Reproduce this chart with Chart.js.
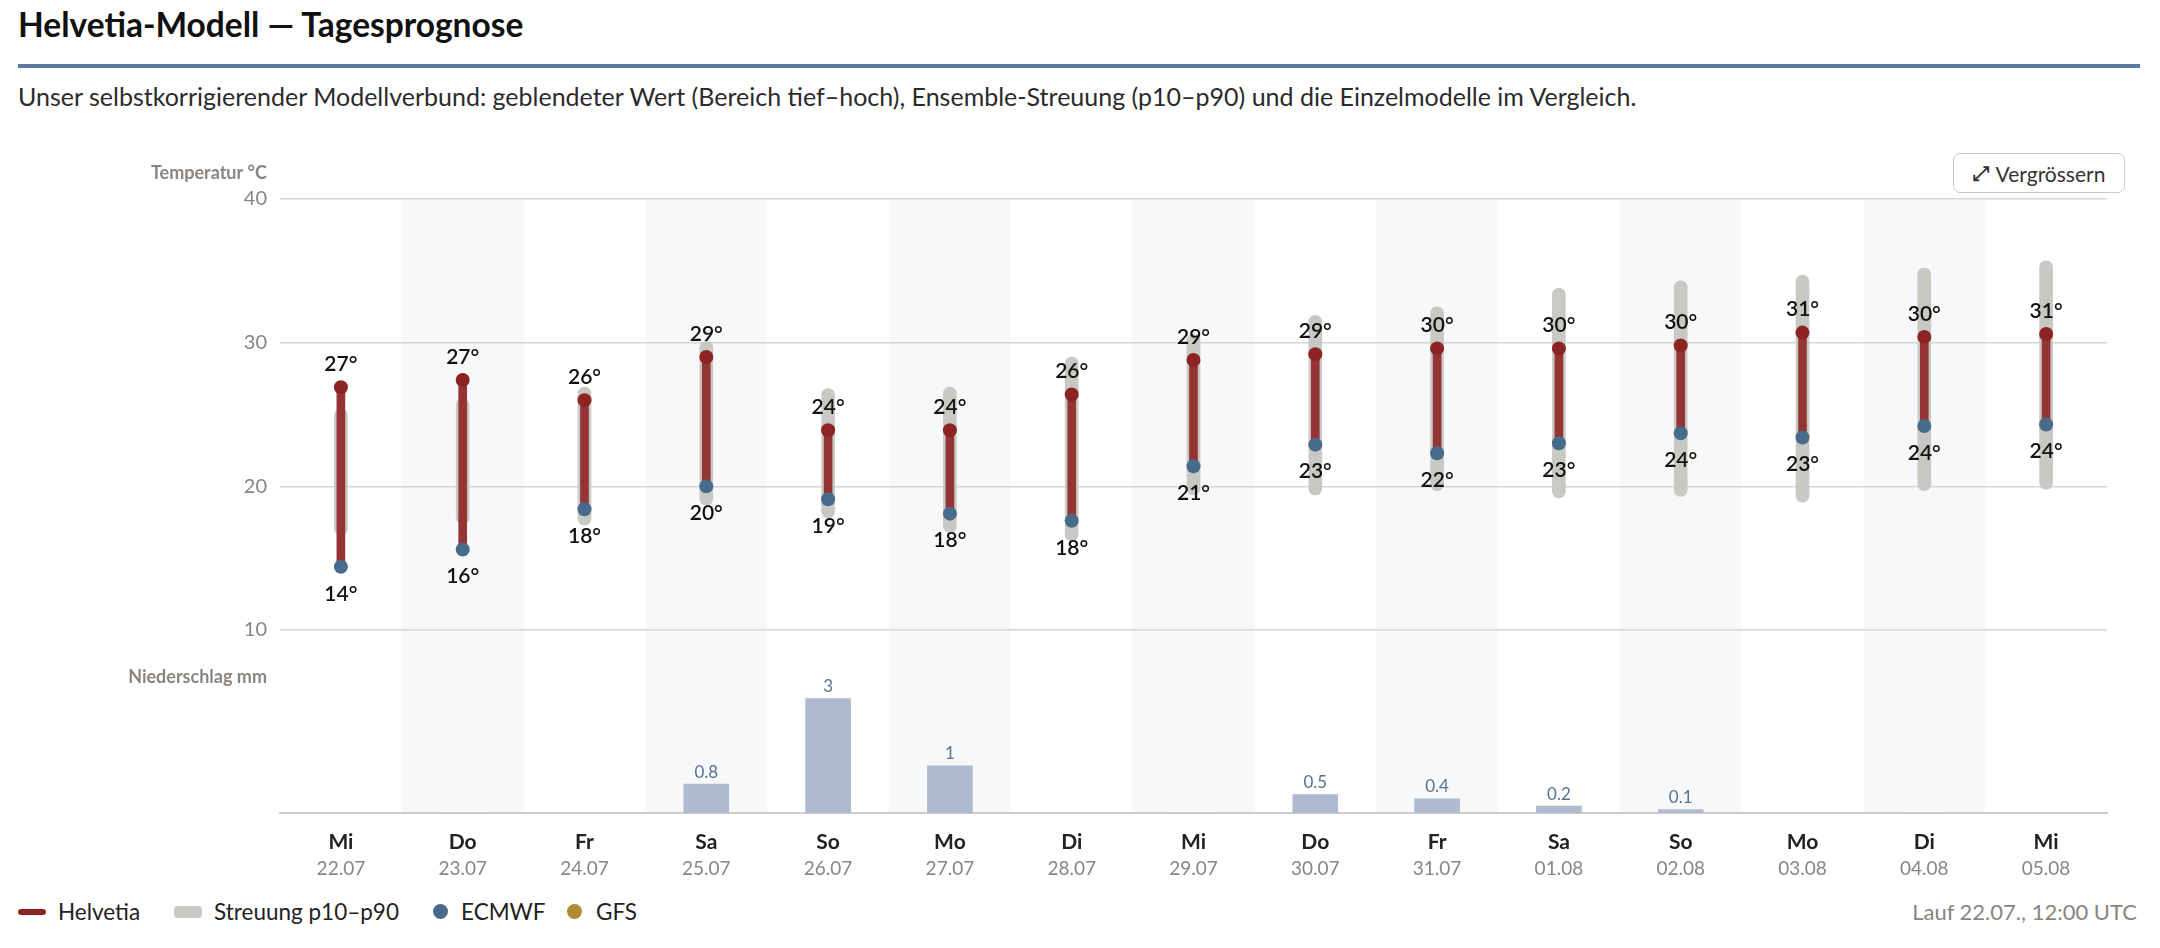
<!DOCTYPE html>
<html lang="de">
<head>
<meta charset="utf-8">
<title>Helvetia-Modell — Tagesprognose</title>
<script src="https://cdn.jsdelivr.net/npm/chart.js@4.4.1/dist/chart.umd.min.js"></script>
<style>
html,body{margin:0;padding:0;background:#fff;}
body{width:2160px;height:948px;position:relative;overflow:hidden;font-family:Lato,'Source Sans Pro',sans-serif;}
#title{position:absolute;left:18px;top:4px;font-size:33.5px;font-weight:700;line-height:40px;color:#111;white-space:nowrap;}
#rule{position:absolute;left:18px;top:64px;width:2122px;height:4px;background:#5b79a3;}
#sub{position:absolute;left:18px;top:81px;font-size:25px;line-height:30px;color:#2b2b2b;white-space:nowrap;}
#wrap{position:absolute;left:0;top:0;width:2160px;height:883px;}
#btn{position:absolute;left:1953px;top:153px;width:172px;height:40px;box-sizing:border-box;border:1.5px solid #c9c9c9;border-radius:7px;font-size:21px;color:#333;display:flex;align-items:center;justify-content:center;gap:7px;background:#fff;z-index:2;}
#btn .ic{font-family:'DejaVu Sans',sans-serif;font-size:20px;font-weight:bold;}
.lt{position:absolute;top:898px;height:28px;line-height:28px;font-size:22.5px;color:#222;white-space:nowrap;}
.sw{position:absolute;}
#foot{position:absolute;right:23px;top:898px;height:28px;line-height:28px;font-size:22px;color:#8a8580;white-space:nowrap;}
</style>
</head>
<body>
<div id="title">Helvetia-Modell — Tagesprognose</div>
<div id="rule"></div>
<div id="sub">Unser selbstkorrigierender Modellverbund: geblendeter Wert (Bereich tief–hoch), Ensemble-Streuung (p10–p90) und die Einzelmodelle im Vergleich.</div>
<div id="wrap"><canvas id="c" width="2160" height="883"></canvas></div>
<div id="btn"><span class="ic">⤢</span><span>Vergrössern</span></div>

<div class="sw" style="left:18px;top:909px;width:28px;height:6px;border-radius:3px;background:#8c2424;"></div>
<div class="lt" style="left:58px;">Helvetia</div>
<div class="sw" style="left:174px;top:906px;width:28px;height:12px;border-radius:4px;background:#c9c9c4;"></div>
<div class="lt" style="left:214px;">Streuung p10–p90</div>
<div class="sw" style="left:433px;top:904px;width:15px;height:15px;border-radius:50%;background:#486b8c;"></div>
<div class="lt" style="left:461px;">ECMWF</div>
<div class="sw" style="left:567px;top:904px;width:15px;height:15px;border-radius:50%;background:#b08a35;"></div>
<div class="lt" style="left:596px;">GFS</div>
<div id="foot">Lauf 22.07., 12:00 UTC</div>

<script>
// ---- data ----
const days  = ['Mi','Do','Fr','Sa','So','Mo','Di','Mi','Do','Fr','Sa','So','Mo','Di','Mi'];
const dates = ['22.07','23.07','24.07','25.07','26.07','27.07','28.07','29.07','30.07','31.07','01.08','02.08','03.08','04.08','05.08'];
const helvHigh = [26.9, 27.4, 26.0, 29.0, 23.9, 23.9, 26.4, 28.8, 29.2, 29.6, 29.6, 29.8, 30.7, 30.4, 30.6];
const helvLow  = [14.4, 15.6, 18.4, 20.0, 19.1, 18.1, 17.6, 21.4, 22.9, 22.3, 23.0, 23.7, 23.4, 24.2, 24.3];
const ecmwf    = [14.4, 15.6, 18.4, 20.0, 19.1, 18.1, 17.6, 21.4, 22.9, 22.3, 23.0, 23.7, 23.4, 24.2, 24.3];
const p10      = [16.6, 17.4, 17.3, 18.7, 17.8, 16.8, 16.2, 19.4, 19.4, 19.7, 19.2, 19.3, 18.9, 19.7, 19.8];
const p90      = [25.4, 26.1, 26.9, 30.1, 26.8, 26.9, 29.0, 30.6, 31.9, 32.5, 33.8, 34.3, 34.7, 35.2, 35.7];
const precip   = [0, 0, 0, 0.76, 3.0, 1.24, 0, 0, 0.48, 0.37, 0.18, 0.09, 0, 0, 0];
const tempTicks = [10, 20, 30, 40];
const tempRange = [10, 40];
const precipMax = 4.8;

const FONT = "Lato, 'Source Sans Pro', sans-serif";
const GRAY_TXT = '#8a8580';

function fmtPrecip(v){ return v >= 1 ? String(Math.round(v)) : v.toFixed(1); }

const shadePlugin = {
  id: 'shade',
  beforeDraw(chart){
    const {ctx, chartArea, scales} = chart;
    const w = (chartArea.right - chartArea.left) / days.length;
    ctx.save();
    ctx.fillStyle = '#f7f8fa';
    days.forEach((d, i) => {
      if (i % 2 === 1) {
        const cx = scales.x.getPixelForValue(i);
        ctx.fillRect(cx - w/2, chartArea.top, w, chartArea.bottom - chartArea.top);
      }
    });
    ctx.restore();
  }
};

const labelPlugin = {
  id: 'labels',
  afterDatasetsDraw(chart){
    const {ctx, scales, chartArea} = chart;
    ctx.save();
    ctx.textAlign = 'center';
    ctx.textBaseline = 'middle';
    ctx.fillStyle = '#111';
    ctx.font = '600 21px ' + FONT;
    const hiMeta = chart.getDatasetMeta(2).data;
    const loMeta = chart.getDatasetMeta(3).data;
    helvHigh.forEach((v, i) => {
      ctx.fillText(Math.round(v) + '°', hiMeta[i].x, hiMeta[i].y - 23);
    });
    helvLow.forEach((v, i) => {
      ctx.fillText(Math.round(v) + '°', loMeta[i].x, loMeta[i].y + 27);
    });
    const pMeta = chart.getDatasetMeta(4).data;
    ctx.font = '17px ' + FONT;
    ctx.fillStyle = '#56728f';
    precip.forEach((v, i) => {
      if (v > 0) ctx.fillText(fmtPrecip(v), pMeta[i].x, pMeta[i].y - 12);
    });
    ctx.textAlign = 'right';
    ctx.fillStyle = GRAY_TXT;
    ctx.font = 'bold 18px ' + FONT;
    ctx.fillText('Temperatur °C', chartArea.left - 13, scales.y.top - 26);
    ctx.fillText('Niederschlag mm', chartArea.left - 13, scales.yP.top + 47);
    ctx.restore();
  }
};

Chart.defaults.font.family = FONT;

new Chart(document.getElementById('c'), {
  data: {
    labels: dates,
    datasets: [
      { type: 'bar', label: 'Streuung p10–p90', data: p10.map((lo, i) => [lo, p90[i]]),
        yAxisID: 'y', backgroundColor: '#c9c9c4', barThickness: 13, borderRadius: 7,
        borderSkipped: false, grouped: false, order: 5 },
      { type: 'bar', label: 'Helvetia', data: helvLow.map((lo, i) => [lo, helvHigh[i]]),
        yAxisID: 'y', backgroundColor: '#953434', barThickness: 8, borderSkipped: false,
        grouped: false, order: 4 },
      { type: 'line', label: 'Helvetia hoch', data: helvHigh, yAxisID: 'y', showLine: false,
        pointRadius: 7, pointHoverRadius: 7, pointBackgroundColor: '#8c2424', pointBorderWidth: 0, order: 3 },
      { type: 'line', label: 'ECMWF', data: ecmwf, yAxisID: 'y', showLine: false,
        pointRadius: 7, pointHoverRadius: 7, pointBackgroundColor: '#486b8c', pointBorderWidth: 0, order: 2 },
      { type: 'bar', label: 'Niederschlag', data: precip, yAxisID: 'yP',
        backgroundColor: '#adbad0', barThickness: 45, grouped: false, order: 6 }
    ]
  },
  options: {
    responsive: false,
    maintainAspectRatio: false,
    devicePixelRatio: 1,
    animation: false,
    events: [],
    layout: { padding: { top: 199, right: 53, left: 0, bottom: 0 } },
    plugins: { legend: { display: false }, tooltip: { enabled: false } },
    scales: {
      x: {
        type: 'category', labels: days, position: 'bottom', offset: true,
        grid: { display: false, drawTicks: false },
        border: { display: true, color: '#cfccc7', width: 2 },
        ticks: { color: '#222', font: { size: 21, weight: 'bold' }, padding: 17,
                 autoSkip: false, maxRotation: 0 },
        afterFit: s => { s.height = 40; }
      },
      x2: {
        type: 'category', labels: dates, position: 'bottom', offset: true,
        grid: { display: false, drawTicks: false },
        border: { display: false },
        ticks: { color: GRAY_TXT, font: { size: 19 }, padding: 4, autoSkip: false, maxRotation: 0 },
        afterFit: s => { s.height = 30; }
      },
      yP: {
        type: 'linear', position: 'left', stack: 'v', stackWeight: 183,
        min: 0, max: precipMax,
        ticks: { display: false },
        grid: { display: false, drawTicks: false },
        border: { display: false },
        afterFit: s => { s.width = 280; }
      },
      y: {
        type: 'linear', position: 'left', stack: 'v', stackWeight: 431,
        min: tempRange[0], max: tempRange[1],
        afterBuildTicks: s => { s.ticks = tempTicks.map(v => ({ value: v })); },
        ticks: { color: GRAY_TXT, font: { size: 20 }, padding: 13 },
        grid: { color: '#d6d6d6', lineWidth: 1.5, drawTicks: false },
        border: { display: false },
        afterFit: s => { s.width = 280; }
      }
    }
  },
  plugins: [shadePlugin, labelPlugin]
});
</script>
</body>
</html>
